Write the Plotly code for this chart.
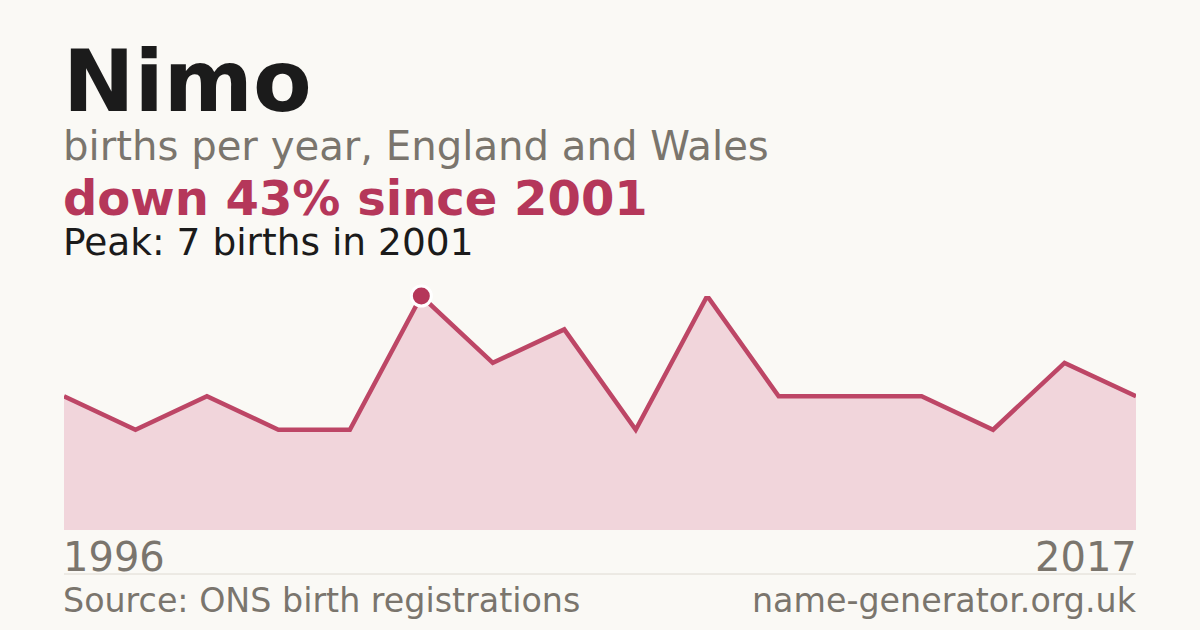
import plotly.graph_objects as go

# births per year for the name (years with registrations only)
years = ["1996", "1997", "1998", "1999", "2000", "2001", "2003", "2005",
         "2006", "2008", "2009", "2010", "2011", "2013", "2015", "2017"]
births = [4, 3, 4, 3, 3, 7, 5, 6, 3, 7, 4, 4, 4, 3, 5, 4]

peak_year = "2001"
peak_value = 7

W, H = 1200, 630
BG = "#faf9f5"
RED = "#b5375a"
GREY = "#7a756d"
FONT = "DejaVu Sans"

def py(px):
    # pixel row -> paper y
    return 1 - px / H

def pxx(px):
    return px / W

fig = go.Figure()

fig.add_trace(go.Scatter(
    x=years, y=births, mode="lines",
    line=dict(color="#bd4666", width=4.5),
    fill="tozeroy", fillcolor="#f1d5db",
    hoverinfo="skip", cliponaxis=False,
))

fig.add_trace(go.Scatter(
    x=[peak_year], y=[peak_value], mode="markers",
    marker=dict(size=20, color=RED, line=dict(color="white", width=3)),
    hoverinfo="skip", cliponaxis=False,
))

fig.update_xaxes(type="category", range=[0, len(years) - 1],
                 domain=[pxx(64), pxx(1136)], visible=False)
fig.update_yaxes(range=[0, peak_value], domain=[py(530), py(296)],
                 visible=False)

# annotations carry ~3px padding, so nudge edges outward
anns = [
    ("Nimo", 61, 82, 85.5, "#1b1b1b", True, "left"),
    ("births per year, England and Wales", 61, 146, 40.2, GREY, False, "left"),
    ("down 43% since 2001", 61, 198, 48, RED, True, "left"),
    ("Peak: 7 births in 2001", 61, 242, 37.5, "#1b1b1b", False, "left"),
    (years[0], 61, 557, 40, GREY, False, "left"),
    (years[-1], 1139, 557, 40, GREY, False, "right"),
    ("Source: ONS birth registrations", 61, 600, 33.3, GREY, False, "left"),
    ("name-generator.org.uk", 1139, 600, 33.3, GREY, False, "right"),
]
for text, x, y, size, color, bold, anchor in anns:
    fig.add_annotation(
        text=f"<b>{text}</b>" if bold else text,
        x=pxx(x), y=py(y), xref="paper", yref="paper",
        xanchor=anchor, yanchor="middle", showarrow=False,
        font=dict(family=FONT, size=size, color=color),
    )

fig.add_shape(type="line", xref="paper", yref="paper",
              x0=pxx(64), x1=pxx(1136), y0=py(574), y1=py(574),
              line=dict(color="#dedad2", width=1))

fig.update_layout(
    width=W, height=H, margin=dict(l=0, r=0, t=0, b=0),
    paper_bgcolor=BG, plot_bgcolor=BG, showlegend=False,
)

fig.write_html(
    "out.html",
    config={"displayModeBar": False, "staticPlot": True},
    post_script="document.body.style.margin='0';"
                "document.body.style.background='" + BG + "';",
)
